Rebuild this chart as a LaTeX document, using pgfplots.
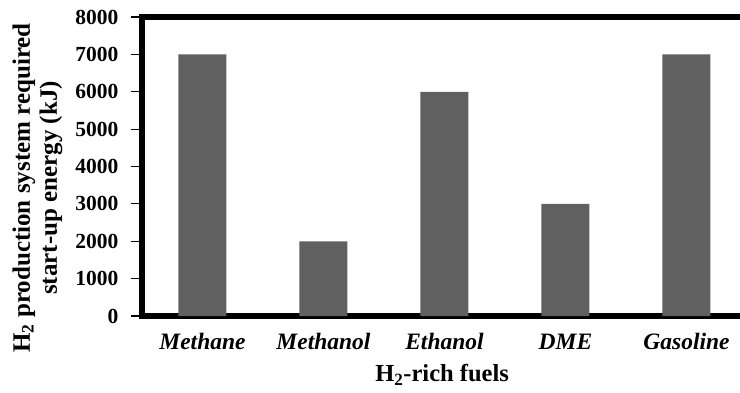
\documentclass[border=0pt]{standalone}
\usepackage{pgfplots}
\pgfplotsset{compat=1.18}
\usepackage{fontspec}
\setmainfont{Liberation Serif}
\definecolor{bargray}{HTML}{606060}
\begin{document}
\begin{tikzpicture}[x=1pt,y=1pt]
\begin{scope}
\clip (0,0) rectangle (740,392);
\begin{axis}[
  at={(142pt,76pt)}, anchor=south west,
  scale only axis, width=605pt, height=299pt,
  xmin=-0.5, xmax=4.5, ymin=0, ymax=8000,
  xtick={0,1,2,3,4},
  xticklabels={Methane,Methanol,Ethanol,DME,Gasoline},
  ytick={0,1000,...,8000},
  ytick pos=left, ytick align=outside,
  major tick length=11pt,
  xtick style={draw=none},
  ytick style={line width=1.2pt,black},
  axis line style={line width=6.5pt},
  /pgf/number format/assume math mode=true,
  /pgf/number format/1000 sep={},
  yticklabel style={font=\bfseries\fontsize{21.5}{24}\selectfont, xshift=-9pt},
  xticklabel style={font=\bfseries\itshape\fontsize{23.5}{26}\selectfont, yshift=-23pt, text height=0.7em, text depth=0.2em},
  xlabel={H\textsubscript{2}-rich fuels},
  xlabel style={at={(axis description cs:0.496,-0.197)}, anchor=center, font=\bfseries\fontsize{24.5}{27}\selectfont},
  ylabel={H\textsubscript{2} production system required\\start-up energy (kJ)},
  ylabel style={at={(axis description cs:-0.1727,0.428)}, anchor=center, align=center, font=\bfseries\fontsize{25}{27}\selectfont},
]
\addplot[ybar, bar width=48pt, fill=bargray, draw=none] coordinates {(0,7000) (1,2000) (2,6000) (3,3000) (4,7000)};
\end{axis}
\end{scope}
\pgfresetboundingbox
\useasboundingbox (0,0) rectangle (740,392);
\end{tikzpicture}
\end{document}
